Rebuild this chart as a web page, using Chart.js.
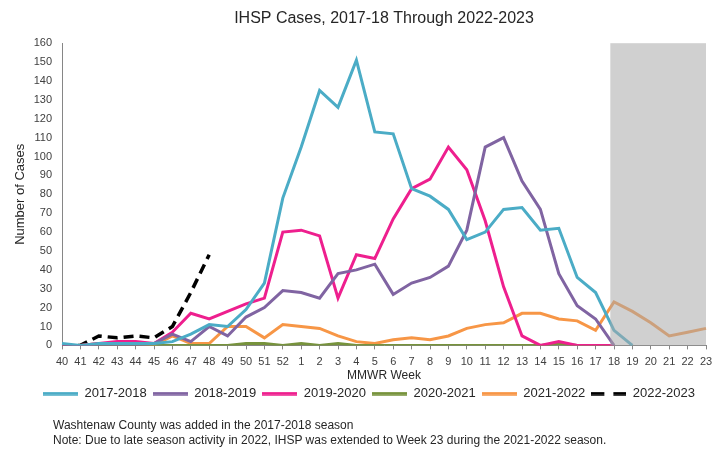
<!DOCTYPE html>
<html>
<head>
<meta charset="utf-8">
<script src="https://cdn.jsdelivr.net/npm/chart.js@4.4.0/dist/chart.umd.min.js"></script>
<style>
  body { margin: 0; background: #fff; }
  #wrap { position: relative; width: 721px; height: 452px; }
  .note { position: absolute; left: 53px; font: 12px "Liberation Sans", Arial, sans-serif; color: #262626; white-space: nowrap; }
</style>
</head>
<body>
<div id="wrap">
  <canvas id="chart" width="721" height="452"></canvas>
  <div class="note" style="top: 418px;">Washtenaw County was added in the 2017-2018 season</div>
  <div class="note" style="top: 433px;">Note: Due to late season activity in 2022, IHSP was extended to Week 23 during the 2021-2022 season.</div>
</div>
<script>
const weeks = ['40','41','42','43','44','45','46','47','48','49','50','51','52',
  '1','2','3','4','5','6','7','8','9','10','11','12','13','14','15','16','17','18','19','20','21','22','23'];

const s1718 = [1,0,1,1,1,1,2,6,11,10,19,33,78,
  105,135,126,151,113,112,83,79,72,56,60,72,73,61,62,36,28,8,0, null,null,null,null];
const s1819 = [0,0,0,0,0,1,6,2,10,5,15,20,29,
  28,25,38,40,43,27,33,36,42,61,105,110,87,72,38,21,14,0, null,null,null,null,null];
const s1920 = [0,0,1,2,2,1,7,17,14,18,22,25,60,
  61,58,25,48,46,67,83,88,105,93,66,31,5,0,2,0,0,0, null,null,null,null,null];
const s2021 = [0,0,0,0,0,0,0,0,0,0,1,1,0,
  1,0,1,0,0,0,0,0,0,0,0,0,0,0,1,0,0,0, null,null,null,null,null];
const s2122 = [0,0,1,1,1,0,5,1,1,10,10,4,11,
  10,9,5,2,1,3,4,3,5,9,11,12,17,17,14,13,8,23,18,12,5,7,9];
const s2223 = [0,0,5,4,5,4,10,28,48];

const yTicks = { min: 0, max: 160, step: 10 };
const shadeFrom = 29.8; // index just before week 18

// gray box over the extended weeks, drawn on top of the lines
const shadePlugin = {
  id: 'shade',
  afterDatasetsDraw(chart) {
    const x = chart.scales.x, a = chart.chartArea;
    const c = chart.ctx;
    c.save();
    c.fillStyle = 'rgba(170,170,170,0.55)';
    const left = x.getPixelForValue(shadeFrom);
    c.fillRect(left, a.top, a.right - left, a.bottom - a.top);
    c.restore();
  }
};

// little canvas used as the legend sample (so the dashed one shows dashes)
function sample(color, dash) {
  const cv = document.createElement('canvas');
  cv.width = 35; cv.height = 4;
  const c = cv.getContext('2d');
  c.strokeStyle = color;
  c.lineWidth = 3.5;
  c.setLineDash(dash || []);
  c.beginPath();
  c.moveTo(0, 2); c.lineTo(35, 2);
  c.stroke();
  return cv;
}

function line(label, data, color, dash) {
  return {
    label: label,
    data: data,
    borderColor: color,
    backgroundColor: color,
    borderWidth: 3,
    borderDash: dash || [],
    pointRadius: 0,
    pointStyle: sample(color, dash ? [13, 9] : null),
    tension: 0,
    fill: false
  };
}

new Chart(document.getElementById('chart'), {
  type: 'line',
  data: {
    labels: weeks,
    datasets: [
      line('2017-2018', s1718, '#4bacc6'),
      line('2018-2019', s1819, '#8064a2'),
      line('2019-2020', s1920, '#ee1f8e'),
      line('2020-2021', s2021, '#77933c'),
      line('2021-2022', s2122, '#f79646'),
      Object.assign(line('2022-2023', s2223, '#000000', [10, 6]), { borderWidth: 3.5 })
    ]
  },
  options: {
    responsive: false,
    animation: false,
    layout: { padding: { left: 32, right: 15, top: 0, bottom: 42 } },
    plugins: {
      title: {
        display: true,
        text: 'IHSP Cases, 2017-18 Through 2022-2023',
        fullSize: false,
        color: '#262626',
        font: { family: 'Liberation Sans', size: 16, weight: 'normal' },
        padding: { top: 9, bottom: 15 }
      },
      legend: {
        position: 'bottom',
        labels: {
          usePointStyle: true,
          pointStyleWidth: 35,
          padding: 6,
          color: '#262626',
          font: { family: 'Liberation Sans', size: 13 }
        }
      },
      tooltip: { enabled: false }
    },
    scales: {
      x: {
        afterFit(s) { s.height -= 6; },
        grid: { drawOnChartArea: false, tickLength: 4, color: '#868686' },
        border: { color: '#868686', width: 1 },
        ticks: {
          autoSkip: false, maxRotation: 0, padding: 6,
          color: '#404040',
          font: { family: 'Liberation Sans', size: 11 }
        },
        title: {
          display: true, text: 'MMWR Week', color: '#262626',
          font: { family: 'Liberation Sans', size: 12 },
          padding: { top: 0, bottom: -2 }
        }
      },
      y: {
        min: yTicks.min, max: yTicks.max,
        afterFit(s) { s.width = 30; },
        grid: { display: true, drawOnChartArea: false, drawTicks: false },
        border: { color: '#868686', width: 1 },
        ticks: {
          stepSize: yTicks.step, padding: 10,
          color: '#404040',
          font: { family: 'Liberation Sans', size: 11 }
        },
        title: {
          display: true, text: 'Number of Cases', color: '#262626',
          font: { family: 'Liberation Sans', size: 13 },
          padding: { top: -19, bottom: 0 }
        }
      }
    }
  },
  plugins: [shadePlugin]
});
</script>
</body>
</html>
